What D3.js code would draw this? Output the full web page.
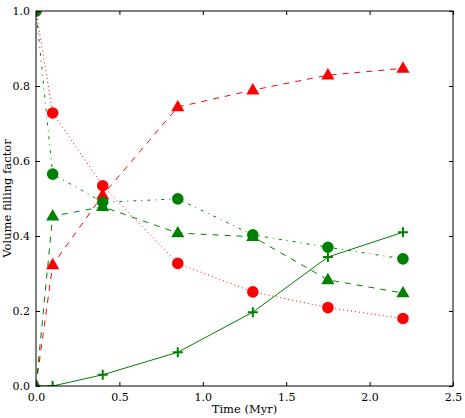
<!DOCTYPE html>
<html lang="en">
  <head>
    <meta charset="utf-8">
    <title>Volume filling factor</title>
    <style>
      body { margin: 0; background: #fff; }
      svg text { font-family: "DejaVu Serif", serif; fill: #000; }
    </style>
  </head>
  <body>
    <svg id="chart" width="465" height="418"></svg>
  </body>
  <script src="https://d3js.org/d3.v7.min.js"></script>
  <script>
    // data
    let times = [0, 0.1, 0.4, 0.85, 1.3, 1.75, 2.2]
    let redTri = [0.0, 0.323, 0.509, 0.744, 0.789, 0.829, 0.847]
    let redCirc = [1.0, 0.728, 0.534, 0.327, 0.251, 0.209, 0.180]
    let greenCirc = [1.0, 0.565, 0.490, 0.499, 0.403, 0.370, 0.339]
    let greenTri = [0.0, 0.453, 0.478, 0.408, 0.398, 0.283, 0.248]
    let greenPlus = [0.0, 0.0, 0.030, 0.090, 0.197, 0.344, 0.410]
    let xTicks = [0, 0.5, 1.0, 1.5, 2.0, 2.5]
    let yTicks = [0, 0.2, 0.4, 0.6, 0.8, 1.0]

    let series = [
      { vals: redTri, color: "#ff0000", dash: "6,6", marker: "triangle" },
      { vals: redCirc, color: "#ff0000", dash: "1,3", marker: "circle" },
      { vals: greenCirc, color: "#008000", dash: "3,5,1,5", marker: "circle" },
      { vals: greenTri, color: "#008000", dash: "6,6", marker: "triangle" },
      { vals: greenPlus, color: "#008000", dash: null, marker: "plus" }
    ]

    let mLeft = 36, mRight = 453, mTop = 11, mBottom = 386
    let svg = d3.select("#chart")

    let x = d3.scaleLinear().domain([0, 2.5]).range([mLeft, mRight])
    let y = d3.scaleLinear().domain([0, 1]).range([mBottom, mTop])

    svg.append("clipPath").attr("id", "clip")
      .append("rect").attr("x", mLeft).attr("y", mTop)
      .attr("width", mRight - mLeft).attr("height", mBottom - mTop)

    let plot = svg.append("g").attr("clip-path", "url(#clip)")

    let line = d3.line().x(d => x(d[0])).y(d => y(d[1]))

    let symbols = {
      triangle: d3.symbol().type(d3.symbolTriangle).size(75),
      circle: d3.symbol().type(d3.symbolCircle).size(105)
    }

    series.forEach(s => {
      let pts = times.map((t, i) => [t, s.vals[i]])
      plot.append("path")
        .attr("d", line(pts))
        .attr("fill", "none")
        .attr("stroke", s.color)
        .attr("stroke-width", 1)
        .attr("stroke-dasharray", s.dash)

      let g = plot.append("g")
      pts.forEach(p => {
        if (s.marker == "plus") {
          g.append("path")
            .attr("d", "M-5,0H5M0,-5V5")
            .attr("transform", `translate(${x(p[0])},${y(p[1])})`)
            .attr("stroke", s.color)
            .attr("stroke-width", 2)
        } else {
          g.append("path")
            .attr("d", symbols[s.marker]())
            .attr("transform", `translate(${x(p[0])},${y(p[1]) + (s.marker == "triangle" ? 0.5 : 0)})`)
            .attr("fill", s.color)
        }
      })
    })

    // axes, ticks pointing inward on all four sides
    let xAxisB = d3.axisBottom(x).tickValues(xTicks).tickSizeInner(-4).tickSizeOuter(0).tickPadding(7).tickFormat(d3.format(".1f"))
    let xAxisT = d3.axisTop(x).tickValues(xTicks).tickSizeInner(-4).tickSizeOuter(0).tickFormat("")
    let yAxisL = d3.axisLeft(y).tickValues(yTicks).tickSizeInner(-4).tickSizeOuter(0).tickPadding(6).tickFormat(d3.format(".1f"))
    let yAxisR = d3.axisRight(y).tickValues(yTicks).tickSizeInner(-4).tickSizeOuter(0).tickFormat("")

    svg.append("g").attr("transform", `translate(0,${mBottom})`).call(xAxisB)
    svg.append("g").attr("transform", `translate(0,${mTop})`).call(xAxisT)
    svg.append("g").attr("transform", `translate(${mLeft},0)`).call(yAxisL)
    svg.append("g").attr("transform", `translate(${mRight},0)`).call(yAxisR)

    svg.selectAll(".domain").remove()
    svg.selectAll(".tick line").attr("stroke", "#000")
    svg.selectAll(".tick text").attr("font-family", "DejaVu Serif").attr("font-size", 11)

    svg.append("rect")
      .attr("x", mLeft).attr("y", mTop)
      .attr("width", mRight - mLeft).attr("height", mBottom - mTop)
      .attr("fill", "none").attr("stroke", "#000").attr("stroke-width", 1)

    svg.append("text")
      .attr("x", (mLeft + mRight) / 2).attr("y", 413)
      .attr("text-anchor", "middle").attr("font-size", 11.5)
      .text("Time (Myr)")

    svg.append("text")
      .attr("transform", `translate(11,${(mTop + mBottom) / 2}) rotate(-90)`)
      .attr("text-anchor", "middle").attr("font-size", 11.5)
      .text("Volume filling factor")
  </script>
</html>
